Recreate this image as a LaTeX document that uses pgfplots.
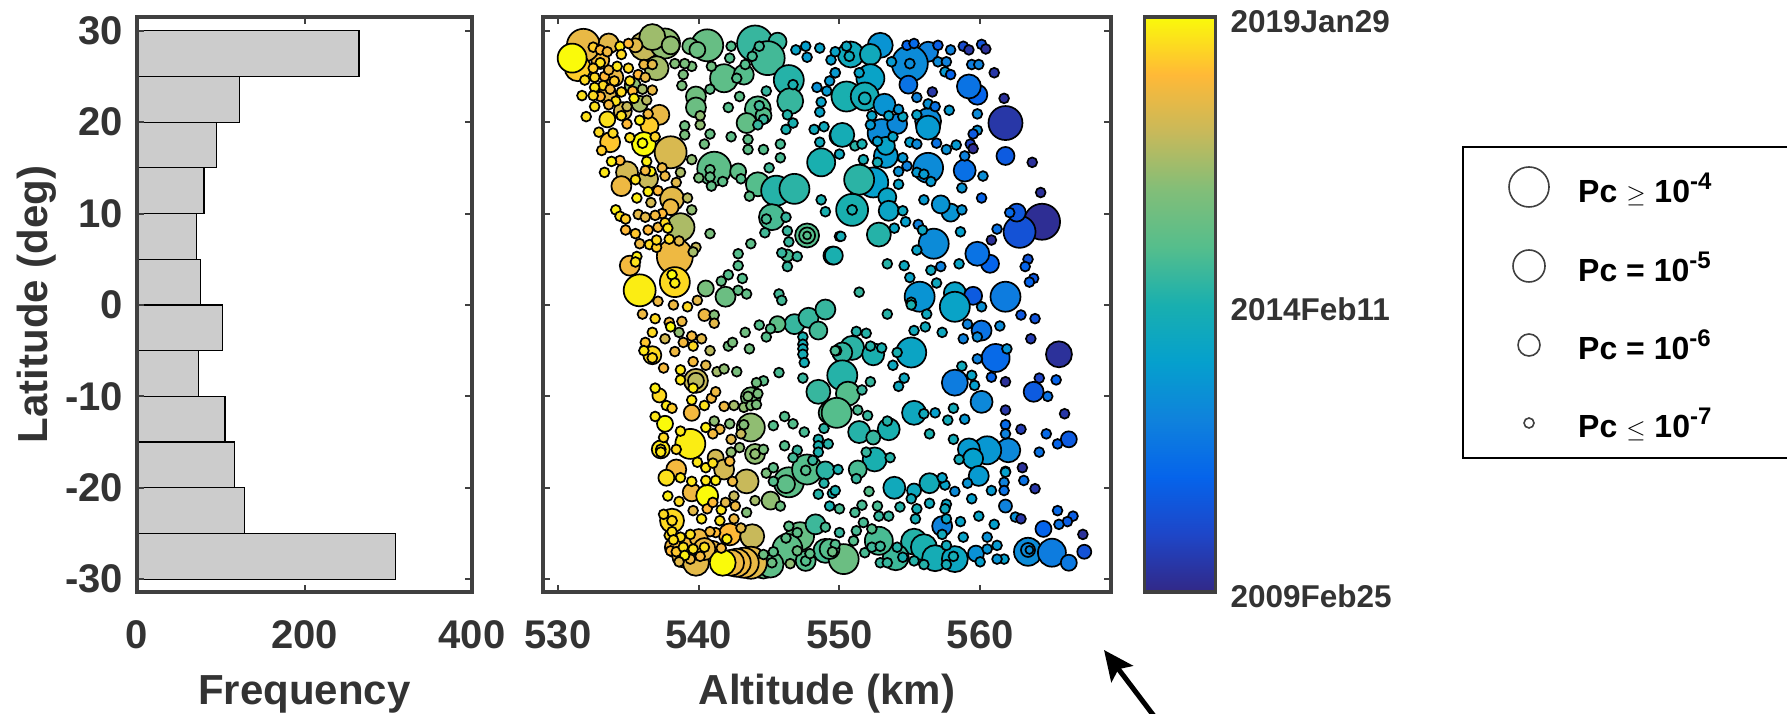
\documentclass[border=0pt]{standalone}
\usepackage{pgfplots}
\usepackage{pgfplotstable}
\usepackage{fontspec}
\setmainfont{Liberation Sans}
\pgfplotsset{compat=1.18}
\usetikzlibrary{arrows.meta}
\definecolor{frame}{gray}{0.25}
\definecolor{txt}{gray}{0.2}
\pgfplotsset{colormap={par}{rgb255=(50,40,135) rgb255=(30,70,200) rgb255=(5,100,235) rgb255=(15,130,220) rgb255=(5,160,205) rgb255=(25,175,175) rgb255=(85,190,140) rgb255=(130,190,120) rgb255=(200,185,90) rgb255=(255,185,55) rgb255=(250,250,10)}}
\pgfplotstableread{
x y c r
538.3 -26.5 .88 10
538.9 -27.5 .87 11
539.3 -26.2 .88 9
540.0 -25.5 .87 9
541.0 -26.8 .87 9
544.6 -28.5 .65 13
533.0 26.8 .88 9
534.0 24.9 .86 9
533.5 23.0 .85 9
534.6 21.2 .83 9
535.3 24.0 .72 8
535.8 22.0 .75 8
531.8 28.4 .86 16.5
531.4 25.9 .93 13
533.6 28.6 .85 10
536.1 28.3 .8 14
537.6 28.6 .72 15
536.7 29.3 .74 13
537.0 25.9 .75 12
538.0 28.4 .72 9
535.5 28.4 .85 7
540.6 28.4 .64 16
539.4 28.3 .66 8
539.9 27.9 .65 8
544.0 28.6 .55 18
545.6 28.8 .55 9
544.9 27.0 .57 17
541.8 24.8 .62 14
543.2 25.2 .6 10
546.4 24.6 .52 15
546.5 22.3 .55 13
539.8 22.8 .66 10
539.8 21.6 .65 10
544.2 21.4 .6 13
543.4 19.9 .63 10
544.6 20.7 .6 8
537.2 20.8 .86 10
536.5 19.6 .93 9
533.5 20.3 .96 8
533.7 17.8 .92 10
538.0 16.7 .83 16
541.1 14.9 .62 17
544.2 13.2 .6 12
545.5 12.5 .52 15
546.8 12.7 .53 15
542.8 14.6 .62 8
534.9 14.5 .82 11
534.5 13.0 .87 10
536.4 13.8 .8 10
538.1 11.6 .85 12
538.0 10.7 .87 8
538.7 8.5 .76 14
545.2 9.6 .58 13
547.7 7.6 .6 12
547.7 7.6 .6 8
547.7 7.6 .6 4
538.3 5.3 .87 18
535.1 4.3 .88 10
549.5 5.4 .48 9
548.7 15.6 .5 14
550.0 18.5 .47 10
546.3 5.4 .58 6
541.9 0.9 .65 10
540.5 1.8 .68 8
535.8 1.6 .98 16
538.3 2.5 .95 15
531.0 27.0 1 14.5
536.1 17.6 1 12
536.0 17.7 1 5
552.9 28.4 .36 12.5
550.8 27.4 .46 13
552.2 27.4 .46 10.5
550.7 27.2 .46 5
556.3 27.7 .3 10
555.0 26.4 .33 18
555.0 26.4 .33 5
554.9 24.1 .25 9
552.2 24.8 .42 14
550.5 22.8 .5 15
551.8 22.8 .48 14
551.8 22.6 .48 6
553.2 21.9 .36 11
559.8 23.0 .2 10
559.2 23.9 .25 12
561.8 19.9 .05 17
553.0 18.8 .33 14
554.1 19.8 .32 10
556.3 20.1 .33 13
556.3 19.4 .38 12
550.2 18.6 .48 12
553.3 16.3 .38 12
553.3 17.4 .42 9
561.8 16.3 .17 9
558.9 14.7 .24 11
556.3 15.0 .33 15
552.4 13.4 .4 15
551.4 13.7 .53 15
550.9 10.4 .5 16
550.9 10.4 .5 5
553.4 11.8 .43 9
553.5 10.3 .43 10
552.8 7.7 .52 12
564.4 9.1 .02 18
562.8 8.0 .14 16
562.6 10.1 .16 9
556.7 6.7 .33 15
557.9 10.1 .36 9
557.2 11.0 .36 9
560.7 4.5 .2 9
559.8 5.6 .25 12
555.7 0.9 .36 15
558.2 1.3 .42 11
561.8 0.9 .28 15
559.5 1.0 .17 9
558.2 -0.2 .42 15
549.6 5.4 .5 9
539.8 -8.3 .8 12
539.8 -8.3 .78 8
539.5 -11.8 .88 8
543.7 -13.4 .72 14
544.0 -16.3 .72 10
544.0 -16.3 .72 5
538.1 -23.6 .95 12
538.1 -23.6 .95 5
537.3 -15.8 .97 9
537.3 -15.8 .97 5
536.7 -5.5 .95 9
536.7 -5.8 .95 5
537.2 -9.9 .95 7
538.4 -18.0 .88 10
537.7 -18.9 .96 8
541.2 -16.7 .82 8
541.8 -18.0 .82 10
543.4 -19.3 .8 12
539.5 -20.5 .87 9
542.2 -25.1 .9 11
543.8 -25.3 .8 12
539.8 -28.2 .85 13
540.4 -26.7 .86 11
545.1 -21.4 .72 9
546.4 -19.4 .62 15
546.2 -19.6 .62 9
547.7 -18.0 .6 15
547.6 -18.1 .6 5
549.0 -18.1 .53 9
547.2 -25.3 .64 14
546.3 -26.7 .62 15
545.1 -28.4 .62 13
549.0 -26.9 .58 12
547.6 -28.0 .6 10
547.6 -28.0 .6 5
548.3 -24.0 .56 10
548.5 -9.5 .55 12
549.3 -11.8 .6 11
546.8 -2.1 .55 10
545.6 -2.1 .62 8
547.8 -1.4 .55 10
548.5 -2.8 .57 9
549.0 -0.5 .55 10
543.7 -10.1 .68 10
540.4 -1.1 .87 6
537.6 -13.0 1 8
539.4 -15.2 .98 15
543.7 -28.2 .85 16
543.2 -28.2 .86 15
542.7 -28.2 .87 14
542.3 -28.2 .87 13
541.7 -28.2 1 13
540.6 -20.9 1 11
565.6 -5.4 .03 13
563.8 -9.5 .17 10
561.1 -5.8 .22 14
560.1 -2.8 .25 10
558.2 -8.5 .28 13
560.1 -10.6 .32 11
555.1 -5.2 .43 15
555.3 -11.8 .45 12
550.9 -4.7 .53 12
550.2 -5.2 .54 10
552.4 -5.4 .5 11
550.2 -7.7 .52 15
550.6 -9.7 .6 12
549.8 -11.8 .6 15
553.5 -13.6 .5 11
551.4 -13.9 .52 11
552.4 -14.5 .55 7
552.5 -16.9 .5 12
551.3 -18.0 .58 9
553.9 -20.0 .46 11
556.4 -19.5 .47 10
555.3 -20.3 .45 7
562.0 -15.9 .32 12
560.5 -15.9 .37 14
559.2 -15.8 .38 11
559.5 -16.8 .4 10
559.9 -18.7 .38 10
561.8 -22.0 .3 6.5
557.3 -24.2 .3 10
555.3 -25.9 .52 13
556.0 -26.5 .5 13
556.8 -27.7 .48 13
558.2 -27.8 .44 13
554.0 -27.6 .56 13
552.8 -25.8 .58 14
550.3 -27.8 .65 15
549.3 -26.7 .6 10
563.4 -27.0 .33 14
563.4 -26.8 .33 7
563.5 -26.8 .33 4
565.1 -27.1 .28 14
566.3 -28.2 .27 8
564.5 -24.5 .2 8
567.4 -27.0 .14 7
566.3 -14.7 .17 8
559.7 -27.2 .35 8
}\bigpts
\pgfplotstableread{
x y c
533.0 26.5 .96
533.3 25.0 .9
534.0 24.5 .93
533.0 22.8 .9
534.1 22.3 .96
533.2 24.0 .95
535.7 25.2 .9
535.3 23.4 .9
534.9 19.8 .9
536.9 18.4 .94
533.1 16.9 .93
534.4 15.8 .9
537.1 12.5 .9
537.4 10.0 .9
536.9 9.8 .88
536.5 6.6 .95
537.0 6.3 .93
538.6 7.0 .85
538.0 -26.9 .9
538.4 -27.0 .92
539.4 -27.8 .87
540.1 -27.5 .88
537.9 -25.2 .95
541.2 -24.9 .9
541.6 -26.6 .88
543.0 -24.4 .85
542.6 -22.0 .87
540.6 -22.3 .9
537.5 -22.9 .95
541.0 -21.6 .9
547.0 -15.9 .55
546.7 -16.7 .57
548.1 -17.0 .55
549.5 -20.6 .5
550.0 -24.9 .55
544.6 -27.3 .65
547.9 -27.2 .62
549.7 -26.2 .6
551.2 -24.7 .58
532.5 28.2 .93
533.0 27.9 .9
533.5 27.7 .88
534.4 28.3 .97
535.0 28.6 .9
534.5 27.4 .95
534.2 26.1 .97
533.6 25.7 .87
535.0 25.9 .95
536.1 26.3 .87
536.7 26.3 .85
536.2 24.9 .86
531.9 24.6 .95
532.6 24.9 .95
532.5 25.9 .93
532.6 23.8 .97
531.7 22.9 .96
532.5 22.9 .95
532.6 21.7 .96
533.6 21.9 .88
534.5 23.3 .95
533.7 23.6 .88
535.1 24.5 .96
535.4 22.6 .98
536.0 23.6 .75
536.3 22.4 .78
536.7 23.5 .86
534.9 21.7 .8
532.0 20.6 .96
534.5 20.7 .96
536.4 20.9 .88
535.8 20.2 .98
532.9 18.9 .95
533.9 18.8 .95
535.1 18.3 .96
533.8 15.7 .98
533.3 14.5 .97
536.3 15.7 .98
536.6 14.6 .98
535.5 13.7 .96
536.2 14.7 .88
537.4 15.0 .87
537.6 14.1 .87
538.4 13.4 .85
538.7 14.5 .76
536.4 12.4 .98
535.6 11.7 .98
536.6 11.2 .82
534.1 10.4 .98
534.4 9.7 .96
534.8 9.4 .93
535.7 9.9 .85
536.2 9.6 .85
539.2 11.7 .78
539.5 10.4 .72
534.8 8.2 .9
535.5 7.8 .92
536.4 8.2 .9
537.1 8.5 .88
537.6 9.0 .95
537.8 8.4 .97
537.0 7.1 .95
537.9 7.2 .95
535.8 6.7 .87
539.8 6.3 .8
535.6 5.3 .98
535.5 4.7 .96
538.1 3.3 1
538.3 2.4 .98
539.6 5.8 .75
539.5 15.9 .72
539.0 19.6 .66
540.1 19.7 .72
540.1 20.7 .72
539.0 18.6 .68
540.8 18.7 .64
540.4 17.6 .66
542.3 18.4 .62
543.5 18.1 .62
543.5 17.0 .62
544.6 17.0 .6
545.8 17.6 .58
545.8 16.1 .58
545.0 15.0 .57
543.0 13.8 .6
540.0 13.9 .68
540.8 14.8 .63
540.8 14.0 .63
540.9 13.0 .63
541.7 13.5 .62
543.6 11.9 .62
542.1 21.6 .6
542.9 22.8 .62
540.8 23.6 .62
538.8 24.0 .68
538.9 25.2 .68
538.3 26.4 .7
539.5 26.1 .68
539.0 26.4 .68
540.9 26.1 .66
542.3 28.3 .6
542.2 27.0 .6
543.3 26.3 .6
542.7 24.8 .6
543.8 27.2 .58
544.3 28.3 .57
546.9 27.9 .42
547.6 28.3 .4
547.7 27.1 .38
548.6 28.1 .42
549.4 26.8 .4
548.4 23.8 .35
549.3 24.5 .38
549.1 23.4 .38
548.7 22.2 .42
548.6 21.1 .42
548.2 19.2 .46
548.9 19.5 .46
548.6 17.8 .46
549.7 25.4 .35
544.8 23.4 .55
544.3 21.8 .57
544.6 20.3 .55
544.2 19.7 .55
546.2 19.2 .5
546.7 19.9 .5
546.7 24.1 .5
546.3 20.8 .52
540.8 7.8 .68
543.7 6.7 .62
542.8 5.6 .6
542.8 4.3 .6
542.1 3.3 .6
541.6 2.6 .63
543.1 2.9 .6
542.8 1.6 .63
543.4 1.2 .63
544.7 7.9 .57
546.3 8.1 .55
546.4 6.9 .55
545.9 5.7 .55
547.0 5.3 .55
546.3 4.2 .55
545.7 1.2 .57
545.9 0.5 .57
548.7 11.5 .5
549.0 10.2 .5
550.0 7.5 .48
546.2 9.6 .55
544.8 9.4 .58
539.9 0.5 .85
538.2 0.0 .87
539.2 -0.2 .95
537.1 0.4 .87
554.8 28.4 .2
555.3 28.6 .22
557.0 28.4 .18
557.9 27.9 .3
558.8 28.3 .12
559.2 27.9 .05
560.1 28.5 .15
560.4 28.0 .03
553.7 26.6 .38
557.0 26.6 .33
557.6 26.6 .3
557.5 25.5 .38
557.9 25.2 .2
559.4 26.3 .28
559.9 26.3 .3
561.0 25.4 .05
556.6 23.3 .05
555.5 22.7 .3
556.3 22.0 .35
556.8 21.7 .25
557.8 21.3 .38
559.8 20.9 .33
561.7 22.6 .03
552.3 20.7 .42
553.5 20.7 .42
554.5 20.6 .44
555.5 20.8 .42
552.2 19.7 .38
552.7 17.9 .4
553.8 18.4 .42
555.0 17.8 .4
555.5 17.6 .33
556.9 17.7 .25
557.6 17.0 .35
558.3 17.5 .38
559.3 17.6 .1
559.8 19.1 .35
559.5 18.7 .17
559.5 17.1 .02
558.9 16.3 .3
563.7 15.6 .03
551.1 17.4 .53
551.6 17.6 .5
550.0 16.5 .45
551.7 15.9 .48
552.7 15.6 .48
554.5 16.1 .37
554.8 15.2 .3
554.2 14.6 .35
555.5 14.5 .38
556.0 14.3 .38
556.5 13.5 .38
554.2 13.2 .42
560.2 14.1 .34
558.7 12.8 .36
560.1 11.7 .2
556.0 11.5 .38
558.7 10.4 .36
564.3 12.3 .03
562.1 10.1 .22
554.5 10.3 .45
554.7 9.1 .4
553.9 8.4 .43
555.6 8.8 .3
555.9 8.2 .44
558.6 8.0 .4
561.2 8.3 .25
560.8 7.1 .03
550.1 7.5 .48
553.4 4.5 .52
554.6 4.3 .45
555.5 6.0 .42
558.5 4.5 .42
557.2 4.2 .3
556.5 3.8 .45
555.0 3.0 .42
556.9 2.4 .45
563.4 5.0 .15
563.2 4.2 .2
563.8 2.9 .16
563.5 2.5 .2
551.4 1.4 .55
555.1 0.3 .5
560.1 -0.2 .35
549.7 27.7 .42
550.5 28.3 .45
549.7 25.4 .38
551.4 25.4 .42
554.2 21.4 .36
536.0 -1.0 .87
536.9 -1.5 .95
537.9 -1.9 .88
538.8 -1.8 .87
538.0 -2.4 1
541.1 -1.1 .7
541.1 -2.0 .85
536.7 -3.0 .95
538.6 -3.0 .72
537.6 -3.7 .82
539.5 -3.4 .88
538.9 -4.1 .88
539.6 -4.5 .95
540.2 -3.7 .85
536.2 -4.1 .92
536.1 -5.0 .97
538.3 -5.1 .87
540.8 -5.0 .78
537.5 -6.9 .88
539.6 -6.2 .88
540.5 -6.6 .85
538.7 -7.1 .97
538.7 -8.2 .97
541.3 -7.3 .75
541.8 -7.0 .72
542.7 -7.3 .68
542.1 -4.5 .66
542.4 -4.1 .68
543.3 -3.0 .66
543.6 -4.8 .66
544.3 -2.2 .6
544.8 -3.5 .6
545.1 -2.6 .6
545.7 -7.4 .58
547.4 -3.5 .5
547.4 -4.3 .48
547.4 -4.8 .48
547.4 -5.4 .48
547.5 -6.3 .48
547.4 -8.0 .55
536.9 -9.1 .98
537.7 -11.0 .97
538.1 -11.3 .93
539.6 -9.1 .98
539.5 -10.4 .97
540.4 -11.0 .96
540.9 -10.2 .88
541.2 -9.5 .87
541.8 -11.1 .87
542.5 -11.0 .75
543.2 -11.2 .72
543.5 -10.0 .7
544.2 -9.7 .68
544.6 -8.3 .62
544.1 -8.5 .66
543.7 -11.0 .7
544.1 -10.9 .68
536.9 -12.2 .97
538.7 -13.8 .97
540.5 -13.4 .98
541.5 -13.6 .87
541.0 -14.1 .88
541.1 -12.7 .72
542.2 -13.0 .7
543.2 -13.1 .7
543.0 -14.1 .8
542.3 -14.7 .85
537.5 -14.5 .95
537.3 -16.1 .97
538.4 -15.8 .95
542.3 -16.1 .72
542.9 -15.6 .72
544.6 -15.8 .68
546.1 -15.4 .6
545.3 -13.2 .6
546.1 -12.2 .6
546.7 -13.0 .6
547.5 -13.9 .58
548.9 -13.5 .53
549.2 -15.2 .52
548.5 -14.7 .5
548.5 -15.4 .5
548.5 -16.1 .5
549.8 -5.0 .5
539.9 -17.2 .97
540.5 -17.8 .97
541.0 -17.3 .96
542.2 -17.1 .88
538.7 -18.9 .97
539.5 -19.3 .97
540.5 -19.2 .97
541.2 -19.2 .98
542.4 -19.3 .87
544.8 -18.4 .68
545.3 -17.8 .62
545.3 -19.3 .6
537.8 -20.9 .98
538.6 -21.5 .95
539.6 -22.5 .85
541.6 -22.4 .97
542.5 -20.9 .8
541.9 -21.6 .85
544.0 -21.4 .75
545.8 -22.0 .65
543.4 -22.7 .7
540.2 -23.4 .97
541.5 -23.6 .96
542.5 -23.4 .87
546.4 -24.2 .62
547.0 -24.9 .62
546.2 -25.5 .62
547.0 -26.9 .65
545.3 -27.0 .62
545.2 -28.2 .65
546.5 -28.3 .72
538.1 -24.8 .96
538.7 -25.4 .96
539.4 -25.1 .96
538.2 -25.7 .96
538.9 -26.5 .96
539.6 -26.7 .96
540.4 -26.5 .96
539.0 -27.4 .98
538.6 -28.1 .85
540.8 -24.8 .88
542.0 -25.6 .98
548.5 -20.7 .52
548.9 -19.5 .52
549.7 -20.3 .5
549.3 -22.0 .5
549.0 -24.3 .58
549.9 -18.0 .5
553.4 -1.0 .52
555.1 0.0 .5
556.2 -1.0 .45
556.1 -2.4 .46
555.3 -2.8 .46
557.3 -3.0 .45
559.1 -2.1 .3
558.8 -3.7 .3
559.8 -3.5 .33
561.4 -2.3 .33
562.9 -1.1 .16
563.9 -1.5 .15
563.6 -3.7 .07
561.9 -4.8 .36
559.8 -5.9 .3
560.8 -7.9 .2
561.8 -8.4 .03
564.2 -8.0 .1
565.4 -8.2 .2
564.8 -10.0 .25
566.0 -11.9 .05
561.8 -11.5 .05
561.8 -13.1 .22
562.9 -13.6 .07
564.7 -14.1 .22
565.5 -15.2 .2
564.2 -16.1 .25
563.0 -17.8 .03
563.1 -19.2 .25
563.9 -20.1 .05
561.8 -14.1 .3
561.8 -18.2 .38
561.7 -19.4 .3
561.7 -20.3 .25
560.8 -20.3 .38
559.4 -21.2 .4
558.2 -20.4 .33
557.5 -19.7 .42
557.3 -18.9 .42
559.1 -19.5 .36
559.9 -23.1 .42
561.0 -24.0 .4
562.5 -23.2 .35
562.9 -23.4 .05
565.5 -22.5 .22
566.6 -23.1 .18
566.2 -23.7 .18
565.6 -24.0 .25
567.3 -25.1 .03
560.5 -25.4 .35
561.2 -26.3 .38
561.7 -27.8 .4
561.2 -27.8 .36
560.5 -26.7 .36
560.0 -28.1 .4
558.8 -25.4 .42
558.6 -23.7 .42
557.6 -21.8 .43
557.5 -22.3 .45
557.6 -23.4 .42
557.3 -25.1 .46
557.6 -26.3 .46
558.1 -27.5 .48
557.6 -28.4 .48
556.0 -28.4 .52
555.3 -28.0 .52
554.5 -27.6 .5
554.1 -26.5 .52
555.4 -23.4 .48
555.5 -22.3 .48
555.1 -21.2 .47
556.4 -21.7 .46
554.3 -22.1 .52
553.5 -23.1 .55
552.8 -23.1 .55
552.7 -22.0 .58
551.6 -21.9 .58
552.1 -20.4 .6
550.0 -22.3 .58
551.1 -22.7 .58
551.7 -23.8 .58
552.3 -24.5 .6
551.8 -27.1 .58
552.3 -26.5 .56
552.9 -26.4 .56
552.9 -28.2 .55
553.4 -28.2 .55
551.0 -25.8 .6
549.5 -27.0 .65
551.2 -2.9 .52
551.9 -3.1 .52
552.2 -4.5 .52
553.0 -4.7 .5
554.1 -5.2 .5
553.8 -6.6 .45
554.6 -8.0 .45
554.2 -8.9 .45
552.2 -8.4 .55
551.6 -9.3 .55
551.3 -11.5 .58
552.0 -12.1 .55
553.4 -12.7 .52
551.9 -16.1 .55
553.6 -16.7 .52
551.2 -19.0 .55
556.0 -11.9 .46
556.8 -11.8 .4
558.1 -11.3 .47
557.7 -12.6 .47
558.9 -12.5 .37
556.4 -14.1 .5
558.1 -14.7 .47
558.5 -16.9 .47
561.8 -18.3 .4
559.4 -7.7 .42
559.6 -8.8 .4
558.7 -6.7 .46
549.7 -5.0 .58
}\smallpts
\newcommand{\ticksfont}{\fontsize{40}{42}\selectfont\bfseries}
\newcommand{\labfont}{\fontsize{42}{44}\selectfont\bfseries}
\newcommand{\legfont}{\fontsize{32}{34}\selectfont\bfseries}
\newcommand{\supr}[1]{\raisebox{0.42em}{\fontsize{24}{24}\selectfont\bfseries #1}}
\pgfplotsset{
 common/.style={
  scale only axis, anchor=south west, tick align=inside,
  axis line style={frame,line width=3.2pt},
  tick style={frame,line width=2pt},
  major tick length=7pt,
  /pgf/number format/assume math mode=true,
  tick label style={font=\ticksfont,text=txt},
  label style={font=\labfont,text=txt},
  ymin=-31.4, ymax=31.5, ytick={-30,-20,...,30},
 }}
\begin{document}
\begin{tikzpicture}[x=1pt,y=1pt]
\useasboundingbox (0,0) rectangle (1787,714);
\clip (0,0) rectangle (1787,714);
% histogram
\begin{axis}[common, at={(137pt,122pt)}, width=335pt, height=575pt,
  xmin=0, xmax=400, xtick={0,200,400},
  xticklabel shift=25pt,
  yticklabel shift=10.5pt,
  xlabel={Frequency}, xlabel style={at={(axis description cs:0.5,-0.1965)},anchor=base},
  ylabel={Latitude (deg)}, ylabel style={at={(axis description cs:-0.2657,0.5)},anchor=base},
  axis on top]
\addplot[xbar, bar width=5, fill=black!20, draw=black, line width=1.2pt] coordinates {
 (309,-27.5) (128,-22.5) (116,-17.5) (105,-12.5) (73,-7.5) (102,-2.5)
 (76,2.5) (71,7.5) (80,12.5) (95,17.5) (122,22.5) (265,27.5)};
\end{axis}
% scatter with colour bar
\begin{axis}[common, at={(543pt,122pt)}, width=568pt, height=575pt,
  xmin=528.93, xmax=569.3, xtick={530,540,550,560},
  xticklabel shift=25pt,
  yticklabels={},
  xlabel={Altitude (km)}, xlabel style={at={(axis description cs:0.5,-0.1965)},anchor=base},
  colormap name=par, point meta min=0, point meta max=1,
  colorbar, colorbar/width=71pt,
  colorbar style={at={(parent axis.north east)}, anchor=north west, xshift=25pt,
    height=575pt, ytick={0,0.4995,1},
    yticklabels={2009Feb25,2014Feb11,2019Jan29},
    major tick length=0pt, ymin=0, ymax=1,
    axis line style={frame,line width=3.2pt},
    yticklabel shift=11.5pt,
    yticklabel style={font=\fontsize{31.5}{34}\selectfont\bfseries,text=txt,yshift=-4.5pt}},
  axis on top]
\addplot[scatter, only marks, mark=*, point meta=explicit,
  visualization depends on={\thisrow{r} \as \perpointmarksize},
  scatter/use mapped color={draw=black,fill=mapped color},
  scatter/@pre marker code/.append style={/tikz/mark size=\perpointmarksize},
  mark options={line width=1.7pt}] table[x=x,y=y,meta=c] {\bigpts};
\addplot[scatter, only marks, mark=*, mark size=4.9pt, point meta=explicit,
  scatter/use mapped color={draw=black,fill=mapped color},
  mark options={line width=1.7pt}] table[x=x,y=y,meta=c] {\smallpts};
\end{axis}
% legend box
\begin{axis}[scale only axis, anchor=south west, at={(1463pt,256pt)}, width=340pt, height=311pt,
  xmin=1463, xmax=1803, ymin=256, ymax=567, ticks=none,
  axis line style={black,line width=2.5pt}]
\addplot[only marks, mark=o, mark size=20pt, mark options={draw=black!75,line width=1.6pt}] coordinates {(1529,527)};
\addplot[only marks, mark=o, mark size=16pt, mark options={draw=black!75,line width=1.6pt}] coordinates {(1529,448)};
\addplot[only marks, mark=o, mark size=11pt, mark options={draw=black!75,line width=1.6pt}] coordinates {(1529,369)};
\addplot[only marks, mark=o, mark size=5pt, mark options={draw=black!75,line width=1.6pt}] coordinates {(1529,291)};
\node[anchor=base west,inner sep=0pt,font=\legfont] at (axis cs:1578,511) {Pc $\geq$ 10\supr{-4}};
\node[anchor=base west,inner sep=0pt,font=\legfont] at (axis cs:1578,432) {Pc = 10\supr{-5}};
\node[anchor=base west,inner sep=0pt,font=\legfont] at (axis cs:1578,354) {Pc = 10\supr{-6}};
\node[anchor=base west,inner sep=0pt,font=\legfont] at (axis cs:1578,276) {Pc $\leq$ 10\supr{-7}};
\end{axis}
\draw[black,line width=5pt,-{Stealth[length=30pt,width=27pt,inset=6pt]}] (1160,-10) -- (1104,64);
\end{tikzpicture}
\end{document}
